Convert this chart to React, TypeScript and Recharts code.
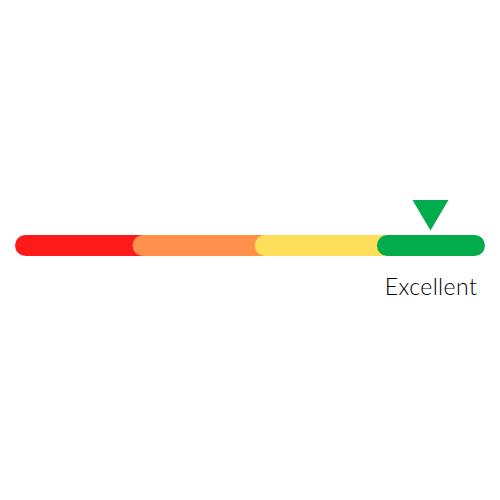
import React from "react";
import { BarChart, Bar, XAxis, YAxis, ReferenceDot } from "recharts";

const categories = ["Poor", "Fair", "Good", "Excellent"];
const segmentValues = [25, 26, 26, 23];
const score = 88.4;
const ratingLabel = "Excellent";

const COLORS = ["#FF1A1A", "#FF914D", "#FFDE59", "#02AC4C"];
const RADIUS = 10.5;

const row: Record<string, any> = { name: "score" };
categories.forEach((c, i) => {
  row[c] = segmentValues[i];
});
const data = [row];

const makeShape = (isLast: boolean) => (props: any) => {
  const { x, y, width, height, fill } = props;
  const w = isLast ? width : width + 2 * RADIUS;
  return <rect x={x} y={y} width={w} height={height} rx={RADIUS} ry={RADIUS} fill={fill} />;
};

const Marker = (props: any) => {
  const { cx, cy } = props;
  const top = cy - 45.5;
  const tip = cy - 15;
  return (
    <g>
      <polygon
        points={`${cx - 18},${top} ${cx + 18},${top} ${cx},${tip}`}
        fill={COLORS[3]}
      />
      <text
        x={cx + 0.5}
        y={cy + 49}
        textAnchor="middle"
        fontFamily="Lato, sans-serif"
        fontWeight={300}
        fontSize={23}
        letterSpacing={0.4}
        fill="#000000"
      >
        {ratingLabel}
      </text>
    </g>
  );
};

export default function App() {
  return (
    <div style={{ position: "absolute", left: 0, top: 0, width: 500, height: 500, background: "#fff" }}>
      <BarChart
        width={500}
        height={500}
        data={data}
        layout="vertical"
        margin={{ top: 190, right: 15, bottom: 199, left: 15 }}
      >
        <XAxis type="number" domain={[0, 100]} hide />
        <YAxis type="category" dataKey="name" hide />
        {categories.map((c, i) => (
          <Bar
            key={c}
            dataKey={c}
            stackId="a"
            fill={COLORS[i]}
            barSize={21}
            isAnimationActive={false}
            shape={makeShape(i === categories.length - 1)}
          />
        ))}
        <ReferenceDot x={score} y="score" r={1} shape={Marker} ifOverflow="visible" />
      </BarChart>
    </div>
  );
}
